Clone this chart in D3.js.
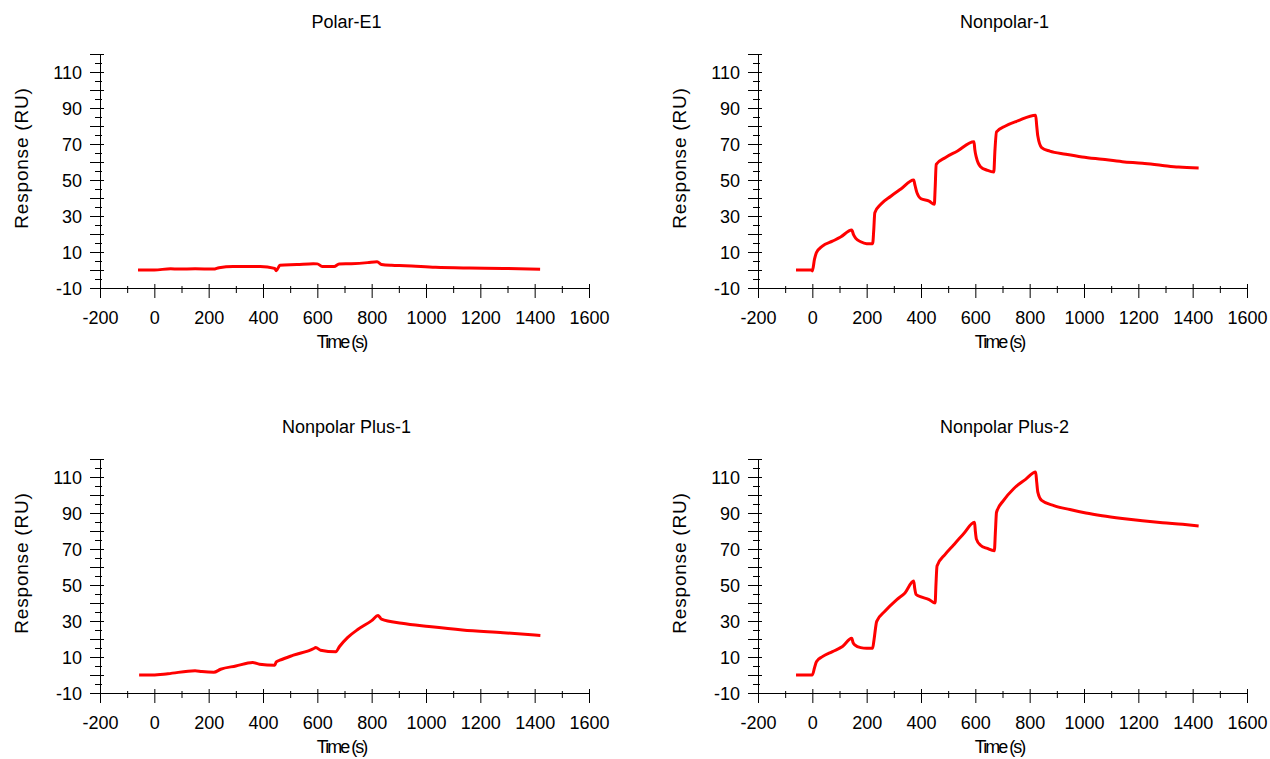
<!DOCTYPE html>
<html>
<head>
<meta charset="utf-8">
<script src="https://cdn.jsdelivr.net/npm/d3@7"></script>
<style>
  html, body { margin: 0; padding: 0; background: #fff; }
  svg { display: block; }
  text { font-family: "Liberation Sans", Arial, sans-serif; fill: #000; }
</style>
</head>
<body>
<svg id="chart" width="1270" height="759"></svg>
<script>
// Sensorgram traces: time (s) and response (RU) for each surface
const polarE1Time = [-60, 0, 60, 90, 150, 218, 238, 290, 390, 443, 449, 462, 525, 585, 600, 618, 662, 680, 725, 785, 820, 836, 873, 923, 1035, 1160, 1285, 1420];
const polarE1Resp = [0, 0, 0.7, 0.5, 0.7, 0.5, 1.3, 1.9, 1.9, 0.9, -0.4, 2.6, 3.0, 3.5, 3.4, 2.0, 1.9, 3.3, 3.5, 4.1, 4.6, 3.1, 2.6, 2.4, 1.5, 1.1, 0.9, 0.4];

const nonpolar1Time = [-60, -2, 0, 8, 15, 37, 74, 104, 145, 152, 160, 178, 200, 222, 226, 230, 252, 289, 326, 373, 378, 385, 400, 430, 449, 452, 456, 489, 533, 595, 598, 604, 619, 644, 668, 672, 678, 711, 756, 822, 826, 830, 844, 874, 933, 993, 1067, 1141, 1215, 1289, 1348, 1422];
const nonpolar1Resp = [0, 0, -0.5, 6, 9.6, 13.3, 16, 18.3, 22.2, 19.5, 17.6, 15.7, 14.6, 14.6, 22, 31.8, 36.5, 41, 45, 50, 47, 43, 39.6, 38.3, 36.5, 45, 58.7, 62.4, 66, 71.3, 67, 62.4, 57.4, 55.4, 54.4, 66, 76.7, 80, 82.8, 86, 80, 74.4, 68, 66, 64.3, 62.8, 61.5, 60.2, 59.3, 58.1, 57.2, 56.7];

const nonpolarPlus1Time = [-56, -6, 50, 150, 175, 219, 244, 300, 362, 387, 443, 449, 462, 512, 587, 594, 612, 668, 681, 712, 750, 800, 824, 836, 911, 1011, 1134, 1284, 1421];
const nonpolarPlus1Resp = [0, 0, 0.7, 2.4, 1.9, 1.5, 3.2, 5, 6.9, 6, 5.4, 7.3, 8.2, 11, 14.7, 15.3, 13.8, 12.9, 15.7, 20.9, 25.4, 30.2, 33, 31, 28.7, 26.9, 25, 23.5, 22];

const nonpolarPlus2Time = [-60, -2, 0, 8, 15, 37, 74, 111, 145, 150, 156, 178, 200, 222, 227, 237, 267, 311, 341, 373, 377, 382, 400, 430, 452, 455, 459, 489, 519, 556, 597, 600, 604, 619, 644, 670, 674, 678, 704, 741, 785, 822, 826, 830, 844, 889, 948, 1007, 1067, 1141, 1215, 1289, 1363, 1422];
const nonpolarPlus2Resp = [0, 0, 0, 4, 7.4, 10.2, 13, 15.8, 20.4, 18, 16.7, 15.2, 14.9, 14.9, 19.5, 29.8, 35.4, 41.9, 45.6, 52.2, 48, 44.7, 43.4, 41.9, 40, 50, 60.6, 67, 72.1, 78.3, 84.8, 80, 75.5, 72.1, 70.3, 69, 80, 90.4, 97, 103.5, 108.7, 112.8, 107, 101.6, 97, 94.1, 91.9, 90, 88.5, 87, 85.7, 84.6, 83.7, 82.8];

const panelTitles = ["Polar-E1", "Nonpolar-1", "Nonpolar Plus-1", "Nonpolar Plus-2"];

// Axis ticks
const xDomain = [-200, 1600];
const yDomain = [-10, 120];
const xLabelTicks = [-200, 0, 200, 400, 600, 800, 1000, 1200, 1400, 1600];
const xMinorTicks = [-100, 100, 300, 500, 700, 900, 1100, 1300, 1500];
const yLabelTicks = [-10, 10, 30, 50, 70, 90, 110];
const yMajorTicks = [0, 20, 40, 60, 80, 100, 120];
const yMinorTicks = [-5, 5, 15, 25, 35, 45, 55, 65, 75, 85, 95, 105, 115];

const xTitle = "Time (s)";
const yTitle = "Response (RU)";

const panels = [
  { title: panelTitles[0], time: polarE1Time, resp: polarE1Resp },
  { title: panelTitles[1], time: nonpolar1Time, resp: nonpolar1Resp },
  { title: panelTitles[2], time: nonpolarPlus1Time, resp: nonpolarPlus1Resp },
  { title: panelTitles[3], time: nonpolarPlus2Time, resp: nonpolarPlus2Resp }
];

// Grid of plot areas (2 x 2)
const plotLeft = [100, 758];
const plotTop = [54, 459];
const plotW = 489;
const plotH = 234;

// plain hyphen-minus for negative tick values
const fmt = d => String(d);

const svg = d3.select("#chart");
svg.append("rect").attr("width", 1270).attr("height", 759).attr("fill", "#fff");

panels.forEach((p, i) => {
  const col = i % 2, row = Math.floor(i / 2);
  const x0 = plotLeft[col], y0 = plotTop[row];

  const x = d3.scaleLinear().domain(xDomain).range([x0, x0 + plotW]);
  const y = d3.scaleLinear().domain(yDomain).range([y0 + plotH, y0]);

  const g = svg.append("g");
  const axisY0 = y(yDomain[0]);

  // x axis: labelled major ticks
  const xAxis = g.append("g")
    .attr("transform", `translate(0,${axisY0})`)
    .call(d3.axisBottom(x).tickValues(xLabelTicks).tickSize(10).tickSizeOuter(0).tickFormat(fmt));
  xAxis.selectAll(".tick line").attr("y1", -4);
  xAxis.selectAll(".tick text").attr("y", 36).attr("dy", 0).style("font-size", "18px");

  // x axis: minor ticks
  const xMinor = g.append("g")
    .attr("transform", `translate(0,${axisY0})`)
    .call(d3.axisBottom(x).tickValues(xMinorTicks).tickSize(5).tickSizeOuter(0).tickFormat(""));
  xMinor.select(".domain").remove();
  xMinor.selectAll(".tick line").attr("y1", -2);

  // y axis: labelled ticks plus unlabelled majors
  const yAxis = g.append("g")
    .attr("transform", `translate(${x0},0)`)
    .call(d3.axisLeft(y).tickValues(yLabelTicks.concat(yMajorTicks)).tickSize(10).tickSizeOuter(0)
      .tickFormat(d => yLabelTicks.includes(d) ? fmt(d) : ""));
  yAxis.selectAll(".tick line").attr("x1", 4);
  yAxis.selectAll(".tick text").attr("x", -18).attr("dy", "0.36em").style("font-size", "18px");

  // y axis: minor ticks
  const yMinor = g.append("g")
    .attr("transform", `translate(${x0},0)`)
    .call(d3.axisLeft(y).tickValues(yMinorTicks).tickSize(5).tickSizeOuter(0).tickFormat(""));
  yMinor.select(".domain").remove();
  yMinor.selectAll(".tick line").attr("x1", 2);

  g.selectAll(".domain").attr("stroke", "#000").attr("stroke-width", 1);
  g.selectAll(".tick line").attr("stroke", "#000").attr("stroke-width", 1);
  g.selectAll(".tick text").attr("fill", "#000").style("font-family", "'Liberation Sans', Arial, sans-serif");

  // titles
  g.append("text")
    .attr("x", x0 + plotW / 2 + 2)
    .attr("y", y0 - 26)
    .attr("text-anchor", "middle")
    .style("font-size", "18px")
    .text(p.title);

  g.append("text")
    .attr("x", x0 + plotW / 2 - 3)
    .attr("y", axisY0 + 60)
    .attr("text-anchor", "middle")
    .style("font-size", "18px")
    .style("letter-spacing", "-2px")
    .text(xTitle);

  g.append("text")
    .attr("transform", `translate(${x0 - 72},${y0 + 104}) rotate(-90)`)
    .attr("text-anchor", "middle")
    .style("font-size", "19px")
    .style("letter-spacing", "0.8px")
    .text(yTitle);

  // trace
  const pts = p.time.map((t, k) => [t, p.resp[k]]);
  const line = d3.line()
    .x(d => x(d[0]))
    .y(d => y(d[1]))
    .curve(d3.curveMonotoneX);

  g.append("path")
    .datum(pts)
    .attr("fill", "none")
    .attr("stroke", "#ff0000")
    .attr("stroke-width", 3)
    .attr("stroke-linejoin", "round")
    .attr("d", line);
});
</script>
</body>
</html>
